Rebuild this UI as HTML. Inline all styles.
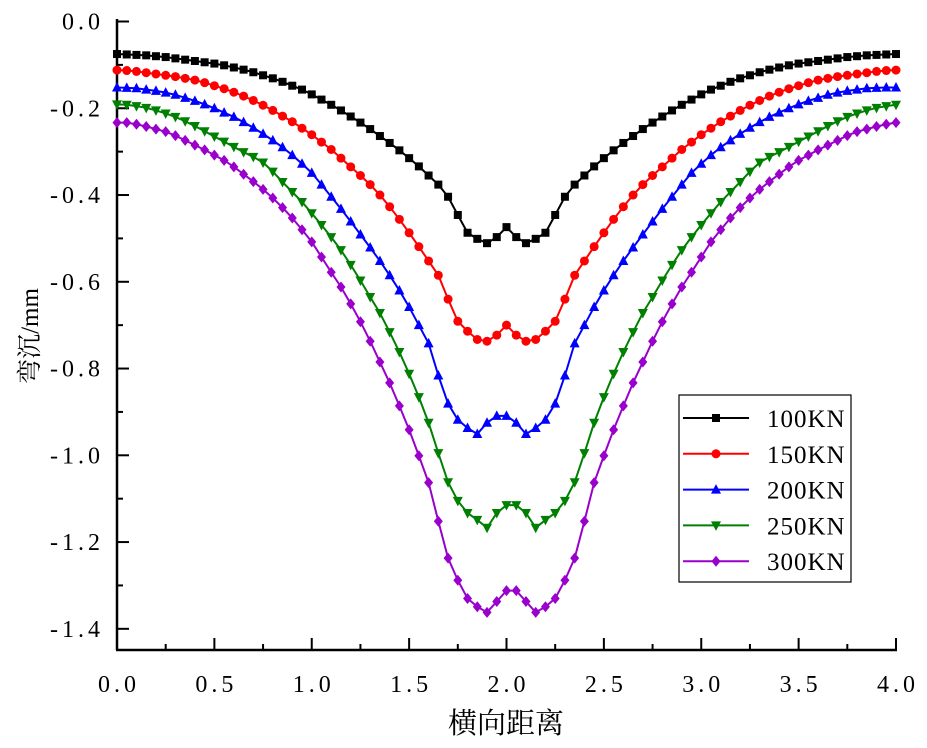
<!DOCTYPE html>
<html><head><meta charset="utf-8"><style>
html,body{margin:0;padding:0;background:#fff;}
svg{display:block;}
text{font-family:"Liberation Serif","Noto Serif CJK SC",serif;}
</style></head><body>
<svg id="chart" width="927" height="748" viewBox="0 0 927 748" xmlns="http://www.w3.org/2000/svg">
<g id="axes"></g>
<g id="series"></g>
<g id="legend"></g>
<text x="506" y="733" font-size="29" text-anchor="middle" style='font-family:"Noto Serif CJK SC",serif'>横向距离</text>
<text transform="translate(38,336) rotate(-90)" font-size="25" text-anchor="middle"><tspan style='font-family:"Noto Serif CJK SC",serif'>弯沉</tspan>/mm</text>
</svg>
<script>
const xValues = [];
for (let i = 0; i <= 80; i++) xValues.push(i * 0.05);
const seriesNames = ["100KN","150KN","200KN","250KN","300KN"];
const s100 = [-.075,-.076,-.077,-.078,-.080,-.082,-.085,-.088,-.091,-.094,-.097,-.101,-.106,-.111,-.117,-.124,-.131,-.139,-.148,-.157,-.168,-.180,-.192,-.205,-.219,-.233,-.248,-.264,-.280,-.297,-.315,-.334,-.355,-.376,-.404,-.446,-.487,-.501,-.511,-.497,-.474,
-.497,-.511,-.501,-.487,-.446,-.404,-.376,-.355,-.334,-.315,-.297,-.280,-.264,-.248,-.233,-.219,-.205,-.192,-.180,-.168,-.157,-.148,-.139,-.131,-.124,-.117,-.111,-.106,-.101,-.097,-.094,-.091,-.088,-.085,-.082,-.080,-.078,-.077,-.076,-.075];
const s150 = [-.112,-.113,-.115,-.118,-.121,-.124,-.127,-.131,-.135,-.141,-.148,-.155,-.163,-.172,-.182,-.193,-.205,-.218,-.231,-.246,-.261,-.278,-.295,-.315,-.335,-.355,-.376,-.400,-.427,-.456,-.487,-.519,-.552,-.585,-.640,-.691,-.714,-.733,-.737,-.723,-.700,
-.723,-.737,-.733,-.714,-.691,-.640,-.585,-.552,-.519,-.487,-.456,-.427,-.400,-.376,-.355,-.335,-.315,-.295,-.278,-.261,-.246,-.231,-.218,-.205,-.193,-.182,-.172,-.163,-.155,-.148,-.141,-.135,-.131,-.127,-.124,-.121,-.118,-.115,-.113,-.112];
const s200 = [-.152,-.153,-.154,-.157,-.160,-.164,-.169,-.176,-.183,-.191,-.200,-.210,-.220,-.232,-.245,-.259,-.274,-.290,-.308,-.328,-.349,-.376,-.404,-.432,-.461,-.491,-.521,-.552,-.585,-.620,-.658,-.700,-.742,-.816,-.881,-.918,-.937,-.951,-.925,-.909,-.909,
-.925,-.951,-.937,-.918,-.881,-.816,-.742,-.700,-.658,-.620,-.585,-.552,-.521,-.491,-.461,-.432,-.404,-.376,-.349,-.328,-.308,-.290,-.274,-.259,-.245,-.232,-.220,-.210,-.200,-.191,-.183,-.176,-.169,-.164,-.160,-.157,-.154,-.153,-.152,-.152];
const s250 = [-.191,-.192,-.195,-.199,-.205,-.212,-.220,-.230,-.241,-.253,-.265,-.277,-.289,-.301,-.312,-.325,-.346,-.370,-.393,-.416,-.442,-.469,-.497,-.527,-.561,-.597,-.635,-.672,-.716,-.762,-.812,-.866,-.925,-.995,-1.062,-1.105,-1.133,-1.149,-1.167,-1.133,-1.115,
-1.115,-1.133,-1.167,-1.149,-1.133,-1.105,-1.062,-.995,-.925,-.866,-.812,-.762,-.716,-.672,-.635,-.597,-.561,-.527,-.497,-.469,-.442,-.416,-.393,-.370,-.346,-.325,-.312,-.301,-.289,-.277,-.265,-.253,-.241,-.230,-.220,-.212,-.205,-.199,-.195,-.192];
const s300 = [-.233,-.233,-.237,-.242,-.248,-.254,-.263,-.274,-.285,-.296,-.308,-.320,-.335,-.352,-.369,-.387,-.407,-.429,-.453,-.480,-.508,-.543,-.578,-.612,-.651,-.692,-.737,-.785,-.833,-.886,-.941,-1.001,-1.063,-1.152,-1.237,-1.288,-1.330,-1.349,-1.362,-1.337,-1.312,
-1.312,-1.337,-1.362,-1.349,-1.330,-1.288,-1.237,-1.152,-1.063,-1.001,-.941,-.886,-.833,-.785,-.737,-.692,-.651,-.612,-.578,-.543,-.508,-.480,-.453,-.429,-.407,-.387,-.369,-.352,-.335,-.320,-.308,-.296,-.285,-.274,-.263,-.254,-.248,-.242,-.237,-.233];
const xTickLabels = ["0.0","0.5","1.0","1.5","2.0","2.5","3.0","3.5","4.0"];
const yTickLabels = ["0.0","-0.2","-0.4","-0.6","-0.8","-1.0","-1.2","-1.4"];

const NS = "http://www.w3.org/2000/svg";
const X0 = 117, X1 = 896, Y0 = 21.5, YPX = 433.8, YBOT = 650;
function sx(v){ return X0 + v / 4 * (X1 - X0); }
function sy(v){ return Y0 - v * YPX; }
function mk(tag, attrs, parent){ const e = document.createElementNS(NS, tag); for (const k in attrs) e.setAttribute(k, attrs[k]); parent.appendChild(e); return e; }

const axes = document.getElementById("axes");
let ax = mk("line", {x1:X0, y1:19, x2:X0, y2:YBOT, stroke:"#000", "stroke-width":2.5}, axes);


ax = mk("line", {x1:X0-1, y1:YBOT, x2:X1+1, y2:YBOT, stroke:"#000", "stroke-width":2.5}, axes);


for (let i = 0; i <= 16; i++) {
  const v = i * 0.25, x = sx(v), major = i % 2 === 0;
  const t = mk("line", {x1:x, y1:YBOT, x2:x, y2:YBOT - (major ? 12 : 6), stroke:"#000", "stroke-width":2}, axes);
  
  
  if (major) {
    const lb = mk("text", {x:x + 2, y:692, "font-size":24, "text-anchor":"middle", "letter-spacing":"4"}, axes);
    lb.textContent = xTickLabels[i / 2];
    
    
  }
}
for (let i = 0; i <= 14; i++) {
  const v = -i * 0.1, y = sy(v), major = i % 2 === 0;
  const t = mk("line", {x1:X0, y1:y, x2:X0 + (major ? 12 : 6), y2:y, stroke:"#000", "stroke-width":2}, axes);
  
  
  if (major) {
    const lb = mk("text", {x:104, y:y + 8, "font-size":24, "text-anchor":"end", "letter-spacing":"4"}, axes);
    lb.textContent = yTickLabels[i / 2];
    
    
  }
}

const colors = ["#000000","#ff0000","#0000ff","#008000","#9900cc"];
const shapes = ["square","circle","up","down","diamond"];
const allSeries = [s100, s150, s200, s250, s300];
function marker(g, shape, x, y, c){
  let e;
  if (shape === "square") e = mk("rect", {x:x-4, y:y-4, width:8, height:8, fill:c}, g);
  else if (shape === "circle") e = mk("circle", {cx:x, cy:y, r:4.5, fill:c}, g);
  else if (shape === "up") e = mk("polygon", {points:`${x},${y-5.5} ${x+5},${y+4} ${x-5},${y+4}`, fill:c}, g);
  else if (shape === "down") e = mk("polygon", {points:`${x},${y+5.5} ${x+5},${y-4} ${x-5},${y-4}`, fill:c}, g);
  else e = mk("polygon", {points:`${x},${y-5.5} ${x+4.5},${y} ${x},${y+5.5} ${x-4.5},${y}`, fill:c}, g);
  return e;
}
const sg = document.getElementById("series");
allSeries.forEach((data, si) => {
  const g = mk("g", {}, sg);
  
  
  const pts = data.map((v, i) => sx(xValues[i]) + "," + sy(v)).join(" ");
  const pl = mk("polyline", {points:pts, fill:"none", stroke:colors[si], "stroke-width":2}, g);
  
  
  data.forEach((v, i) => {
    const m = marker(g, shapes[si], sx(xValues[i]), sy(v), colors[si]);
    
    
  });
});

const lg = document.getElementById("legend");
const box = mk("rect", {x:679, y:395, width:172, height:187, fill:"#fff", stroke:"#000", "stroke-width":1.2}, lg);


seriesNames.forEach((n, i) => {
  const y = 418 + i * 35.8;
  const g = mk("g", {}, lg);
  
  
  mk("line", {x1:683, y1:y, x2:749, y2:y, stroke:colors[i], "stroke-width":2}, g);
  marker(g, shapes[i], 716, y, colors[i]);
  const t = mk("text", {x:767, y:y + 9, "font-size":25, "letter-spacing":"1"}, g);
  t.textContent = n;
});
</script>
</body></html>
